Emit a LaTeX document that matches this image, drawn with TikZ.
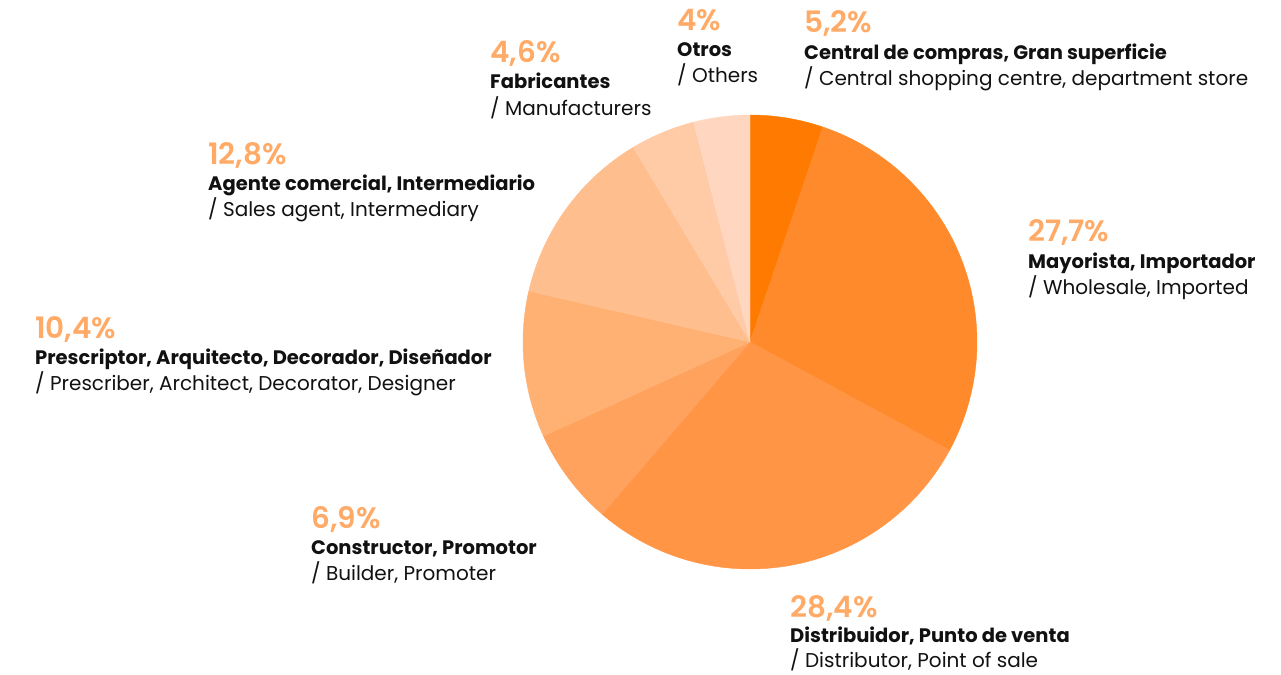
\documentclass[tikz,border=0pt]{standalone}
\usepackage{fontspec}
\setmainfont{Poppins}
\newfontfamily\pctfont{Poppins SemiBold}
\definecolor{sA}{HTML}{FF7A00}
\definecolor{sB}{HTML}{FF8A2B}
\definecolor{sC}{HTML}{FF9545}
\definecolor{sD}{HTML}{FFA25E}
\definecolor{sE}{HTML}{FFB073}
\definecolor{sF}{HTML}{FFBE8D}
\definecolor{sG}{HTML}{FFCBA6}
\definecolor{sH}{HTML}{FFD7C0}
\definecolor{pctc}{HTML}{FFAA66}
\definecolor{txt}{HTML}{111111}
\tikzset{
  pct/.style={anchor=base west, inner sep=0pt, text=pctc, font=\pctfont\fontsize{29.5}{29.5}\selectfont},
  lbl/.style={anchor=base west, inner sep=0pt, text=txt, font=\bfseries\fontsize{19.5}{19.5}\selectfont},
  eng/.style={anchor=base west, inner sep=0pt, text=txt, font=\fontsize{20}{20}\selectfont},
  slice/.style={draw=white, line width=0.4pt, line join=round}
}
\newcommand\pieslice[3]{% color, start, end
  \fill[slice,#1] (c) -- ++(#2:227pt) arc[start angle=#2, end angle=#3, radius=227pt] -- cycle;}
\begin{document}
\begin{tikzpicture}[x=1pt,y=-1pt]
\useasboundingbox (0,0) rectangle (1281,674);
\coordinate (c) at (750,342);
\pieslice{sA}{90}{71.28}
\pieslice{sB}{71.28}{-28.44}
\pieslice{sC}{-28.44}{-130.68}
\pieslice{sD}{-130.68}{-155.52}
\pieslice{sE}{-155.52}{-192.96}
\pieslice{sF}{-192.96}{-239.04}
\pieslice{sG}{-239.04}{-255.6}
\pieslice{sH}{-255.6}{-270}
% labels
\node[pct] (p1) at (804,33) {5,2\%};
\node[lbl] (l1) at (804,60) {Central de compras, Gran superficie};
\node[eng] (e1) at (804,86) {/ Central shopping centre, department store};
\node[pct] (p2) at (677,31) {4\%};
\node[lbl] (l2) at (677,57) {Otros};
\node[eng] (e2) at (677,83) {/ Others};
\node[pct] (p3) at (490,63) {4,6\%};
\node[lbl] (l3) at (490,89) {Fabricantes};
\node[eng] (e3) at (490,115) {/ Manufacturers};
\node[pct] (p4) at (208,164) {12,8\%};
\node[lbl] (l4) at (208,190) {Agente comercial, Intermediario};
\node[eng] (e4) at (208,216) {/ Sales agent, Intermediary};
\node[pct] (p5) at (35,338) {10,4\%};
\node[lbl] (l5) at (35,364) {Prescriptor, Arquitecto, Decorador, Diseñador};
\node[eng] (e5) at (35,390) {/ Prescriber, Architect, Decorator, Designer};
\node[pct] (p6) at (311,528) {6,9\%};
\node[lbl] (l6) at (311,554) {Constructor, Promotor};
\node[eng] (e6) at (311,580) {/ Builder, Promoter};
\node[pct] (p7) at (790,617) {28,4\%};
\node[lbl] (l7) at (790,642) {Distribuidor, Punto de venta};
\node[eng] (e7) at (790,667) {/ Distributor, Point of sale};
\node[pct] (p8) at (1028,241) {27,7\%};
\node[lbl] (l8) at (1028,268) {Mayorista, Importador};
\node[eng] (e8) at (1028,294) {/ Wholesale, Imported};
\end{tikzpicture}
\end{document}
